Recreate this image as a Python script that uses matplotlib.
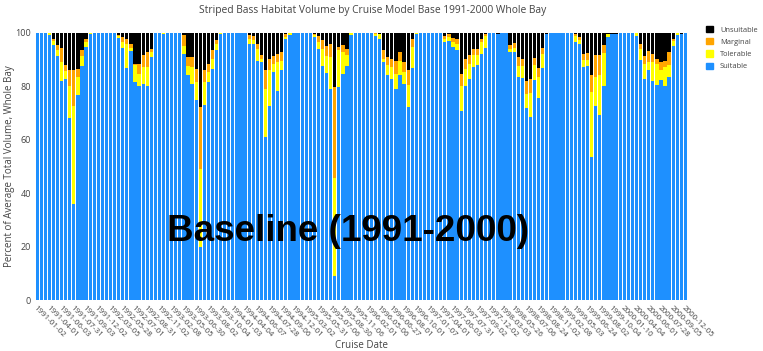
import numpy as np
import matplotlib
matplotlib.use("Agg")
import matplotlib.pyplot as plt
from matplotlib.patches import Patch

# percent of average total volume per cruise
suitable = [
    100, 100, 100, 99.4, 95.4, 91.2, 82.2, 82.8, 68.2, 35.8,
    76.6, 87.8, 94.7, 99.6, 100, 100, 100, 100, 100, 100,
    98.3, 94.5, 87.0, 93.2, 81.6, 80.3, 81.0, 80.0, 91.0, 100,
    100, 99.6, 100, 100, 100, 100, 92.2, 84.3, 81.0, 74.9,
    20.0, 73.2, 81.6, 86.6, 93.5, 99.6, 100, 100, 100, 100,
    100, 100, 96.0, 96.0, 89.7, 89.1, 60.9, 72.8, 85.3, 78.1,
    86.0, 97.9, 99.4, 100, 100, 100, 100, 100, 98.6, 94.1,
    87.8, 85.0, 79.1, 8.9, 79.7, 84.7, 87.8, 99.3, 100, 100,
    100, 100, 100, 98.9, 97.6, 89.1, 84.1, 82.8, 79.1, 84.1,
    81.0, 72.2, 87.0, 99.6, 100, 100, 100, 100, 100, 100,
    96.6, 97.0, 94.7, 93.5, 70.7, 80.0, 82.8, 87.2, 88.2, 92.2,
    94.5, 100, 100, 99.6, 100, 100, 92.9, 92.9, 83.7, 83.2,
    71.9, 68.4, 82.5, 75.7, 87.0, 99.7, 100, 100, 100, 100,
    100, 100, 96.6, 95.7, 87.2, 87.5, 53.6, 72.8, 69.4, 80.3,
    98.4, 99.6, 99.7, 100, 100, 100, 100, 99.0, 90.0, 82.8,
    86.0, 82.2, 80.7, 82.5, 80.0, 83.7, 95.0, 99.4, 99.7, 100,
]
tolerable = [
    0, 0, 0, 0.6, 1.6, 2.3, 6.9, 3.1, 12.1, 37.0,
    6.9, 3.4, 2.0, 0.4, 0, 0, 0, 0, 0, 0,
    0.7, 2.1, 9.0, 1.3, 6.3, 4.5, 6.2, 7.2, 1.9, 0,
    0, 0.4, 0, 0, 0, 0, 3.1, 3.5, 6.2, 6.7,
    29.0, 8.4, 3.8, 3.8, 2.5, 0.4, 0, 0, 0, 0,
    0, 0, 1.9, 1.2, 4.4, 1.0, 18.2, 13.2, 3.1, 11.0,
    3.7, 0.6, 0.6, 0, 0, 0, 0, 0, 0.8, 2.5,
    6.3, 6.5, 11.9, 36.9, 13.8, 8.2, 3.8, 0.7, 0, 0,
    0, 0, 0, 0.7, 1.9, 1.2, 3.8, 4.4, 5.6, 5.6,
    4.4, 8.2, 7.7, 0.4, 0, 0, 0, 0, 0, 0,
    1.2, 1.5, 2.0, 2.5, 9.6, 6.6, 5.7, 4.4, 3.4, 4.4,
    4.3, 0, 0, 0, 0, 0, 1.2, 1.6, 4.1, 4.3,
    5.3, 9.0, 5.4, 8.0, 5.0, 0, 0, 0, 0, 0,
    0, 0, 2.4, 1.5, 2.8, 2.5, 24.2, 10.9, 14.8, 12.2,
    1.2, 0, 0, 0, 0, 0, 0, 1.0, 4.1, 5.6,
    3.1, 6.9, 7.8, 3.7, 7.2, 4.5, 2.0, 0.6, 0, 0,
]
marginal = [
    0, 0, 0, 0, 0.9, 1.9, 5.4, 2.2, 5.9, 13.4,
    3.1, 2.5, 1.2, 0, 0, 0, 0, 0, 0, 0,
    0.3, 1.9, 1.9, 1.5, 0.6, 3.5, 4.4, 5.7, 1.2, 0,
    0, 0, 0, 0, 0, 0, 3.8, 3.1, 3.8, 5.0,
    23.2, 4.4, 3.1, 3.1, 1.3, 0, 0, 0, 0, 0,
    0, 0, 1.2, 1.5, 1.9, 1.5, 6.9, 4.4, 3.1, 3.1,
    3.1, 1.2, 0, 0, 0, 0, 0, 0, 0.3, 2.1,
    3.1, 3.5, 5.0, 33.8, 1.3, 2.5, 2.5, 0, 0, 0,
    0, 0, 0, 0.4, 0.3, 3.2, 3.1, 3.1, 5.0, 3.1,
    3.7, 5.6, 3.2, 0, 0, 0, 0, 0, 0, 0,
    1.2, 1.0, 1.5, 1.9, 4.4, 3.8, 3.1, 2.5, 2.5, 1.2,
    0.8, 0, 0, 0, 0, 0, 1.3, 1.8, 3.1, 2.8,
    5.0, 5.4, 2.9, 3.3, 2.5, 0, 0, 0, 0, 0,
    0, 0, 0.5, 1.3, 2.3, 2.5, 6.3, 7.9, 7.5, 2.9,
    0, 0, 0, 0, 0, 0, 0, 0, 1.9, 3.1,
    4.1, 3.1, 1.8, 2.9, 2.5, 4.6, 0.9, 0, 0, 0,
]
unsuitable = [
    0, 0, 0, 0, 2.1, 4.6, 5.5, 11.9, 13.8, 13.8,
    13.4, 6.3, 2.1, 0, 0, 0, 0, 0, 0, 0,
    0.7, 1.5, 2.1, 4.0, 11.5, 11.7, 8.4, 7.1, 5.9, 0,
    0, 0, 0, 0, 0, 0, 0.9, 9.1, 9.0, 13.4,
    27.8, 14.0, 11.5, 6.5, 2.7, 0, 0, 0, 0, 0,
    0, 0, 0.9, 1.3, 4.0, 8.4, 14.0, 9.6, 8.5, 7.8,
    7.2, 0.3, 0, 0, 0, 0, 0, 0, 0.3, 1.3,
    2.8, 5.0, 4.0, 20.4, 5.2, 4.6, 5.9, 0, 0, 0,
    0, 0, 0, 0, 0.2, 6.5, 9.0, 9.7, 10.3, 7.2,
    10.9, 14.0, 2.1, 0, 0, 0, 0, 0, 0, 0,
    1.0, 0.5, 1.8, 2.1, 15.3, 9.6, 8.4, 5.9, 5.9, 2.2,
    0.4, 0, 0, 0.4, 0, 0, 4.6, 3.7, 9.1, 9.7,
    17.8, 17.2, 9.2, 13.0, 5.5, 0.3, 0, 0, 0, 0,
    0, 0, 0.5, 1.5, 7.7, 7.5, 15.9, 8.4, 8.3, 4.6,
    0.4, 0.4, 0.3, 0, 0, 0, 0, 0, 4.0, 8.5,
    6.8, 7.8, 9.7, 10.9, 10.3, 7.2, 2.1, 0, 0.3, 0,
]

# every third cruise date is labelled on the axis
tick_dates = [
    "1991-01-02", "1991-04-01", "1991-06-03", "1991-07-31", "1991-09-03", "1991-12-02",
    "1992-03-05", "1992-05-28", "1992-07-01", "1992-08-31", "1992-11-02",
    "1993-02-08", "1993-05-05", "1993-06-30", "1993-08-02", "1993-10-04",
    "1994-01-03", "1994-04-04", "1994-06-07", "1994-07-28", "1994-09-06", "1994-12-01",
    "1995-03-02", "1995-05-31", "1995-07-06", "1995-08-30", "1995-11-06",
    "1996-02-01", "1996-05-06", "1996-06-27", "1996-08-01", "1996-10-01",
    "1997-01-07", "1997-04-01", "1997-06-03", "1997-07-31", "1997-09-02", "1997-12-02",
    "1998-03-03", "1998-05-26", "1998-07-06", "1998-08-24", "1998-11-02",
    "1999-02-08", "1999-05-03", "1999-06-24", "1999-08-02", "1999-10-04",
    "2000-01-10", "2000-04-04", "2000-06-01", "2000-07-28", "2000-09-05", "2000-12-05",
]

plt.rcParams['font.family'] = ['Open Sans', 'DejaVu Sans']
grey = "#444444"

fig = plt.figure(figsize=(7.63, 3.51), dpi=100)
ax = fig.add_axes([0.046, 0.145, 0.855, 0.761])

x = np.arange(len(suitable))
s = np.array(suitable)
t = np.array(tolerable)
m = np.array(marginal)
u = np.array(unsuitable)
w = 0.8
ax.bar(x, s, w, color="#1e90ff", linewidth=0)
ax.bar(x, t, w, bottom=s, color="#ffff00", linewidth=0)
ax.bar(x, m, w, bottom=s + t, color="#ffa500", linewidth=0)
ax.bar(x, u, w, bottom=s + t + m, color="black", linewidth=0)

ax.set_xlim(-0.5, len(x) - 0.5)
ax.set_ylim(0, 100)
for sp in ax.spines.values():
    sp.set_visible(False)

ax.set_yticks([0, 20, 40, 60, 80, 100])
ax.tick_params(axis="y", length=0, labelsize=6.5, labelcolor=grey, pad=3)
ax.set_xticks(x[::3])
ax.set_xticklabels(tick_dates, rotation=-45, ha="left", va="top",
                   rotation_mode="anchor", fontsize=5.8, color=grey)
ax.tick_params(axis="x", length=0, pad=3)

ax.set_xlabel("Cruise Date", fontsize=7, color=grey, labelpad=1)
ax.set_ylabel("Percent of Average Total Volume, Whole Bay", fontsize=7, color=grey, labelpad=0)
fig.suptitle("Striped Bass Habitat Volume by Cruise Model Base 1991-2000 Whole Bay",
             x=0.488, y=0.985, fontsize=7.4, color=grey)

ax.text(0.48, 0.255, "Baseline (1991-2000)", transform=ax.transAxes,
        ha="center", va="center", fontsize=26.5, fontweight="bold",
        family="Liberation Sans", color="black")

handles = [Patch(color="black"), Patch(color="#ffa500"),
           Patch(color="#ffff00"), Patch(color="#1e90ff")]
fig.legend(handles, ["Unsuitable", "Marginal", "Tolerable", "Suitable"],
           loc="upper left", bbox_to_anchor=(0.917, 0.945), frameon=False,
           fontsize=5.4, labelcolor=grey, handlelength=0.9, handleheight=0.9,
           handletextpad=0.9, labelspacing=0.6)

fig.savefig("out.png", dpi=100)
